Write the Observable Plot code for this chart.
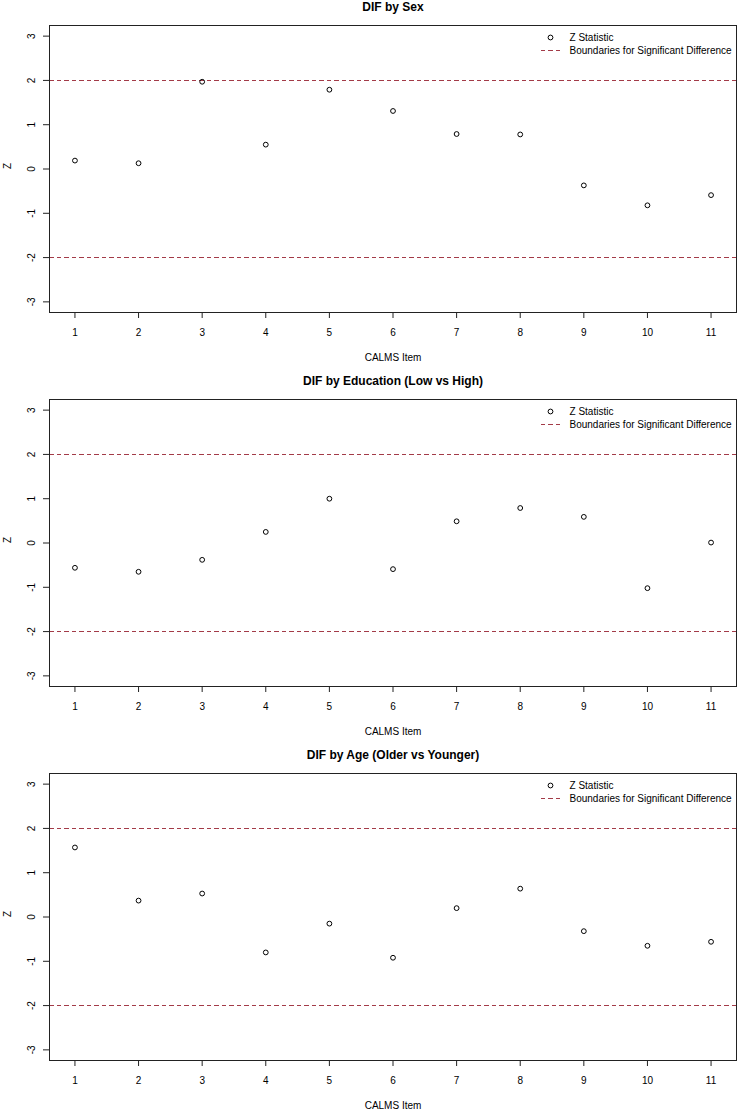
<!DOCTYPE html>
<html>
<head>
<meta charset="utf-8">
<script src="https://cdn.jsdelivr.net/npm/d3@7"></script>
<script src="https://cdn.jsdelivr.net/npm/@observablehq/plot@0.6"></script>
<style>
  html, body { margin: 0; padding: 0; background: #fff; }
  .panel { width: 738px; height: 374px; }
  .panel svg { display: block; }
</style>
</head>
<body>
<div id="charts"></div>
<script>
// ---- data ----
const items = [1, 2, 3, 4, 5, 6, 7, 8, 9, 10, 11];
const zSex = [0.19, 0.13, 1.97, 0.55, 1.79, 1.31, 0.79, 0.78, -0.37, -0.82, -0.59];
const zEducation = [-0.56, -0.65, -0.38, 0.25, 1.0, -0.59, 0.49, 0.79, 0.59, -1.02, 0.01];
const zAge = [1.57, 0.37, 0.53, -0.80, -0.15, -0.92, 0.20, 0.64, -0.32, -0.65, -0.56];
const titles = ["DIF by Sex", "DIF by Education (Low vs High)", "DIF by Age (Older vs Younger)"];
const boundaries = [-2, 2];
const yTicks = [-3, -2, -1, 0, 1, 2, 3];
const xLabel = "CALMS Item";
const yLabel = "Z";
const legendLabels = ["Z Statistic", "Boundaries for Significant Difference"];

const series = [zSex, zEducation, zAge];
const dashColor = "#a33b48";
const dashArray = "4.5,3";

const lineSymbol = {
  draw(context) {
    context.moveTo(-10, 0);
    context.lineTo(10, 0);
  }
};

const container = document.getElementById("charts");

series.forEach((vals, i) => {
  const data = items.map((it, j) => ({item: it, z: vals[j]}));
  const chart = Plot.plot({
    width: 738,
    height: 374,
    marginLeft: 49,
    marginRight: 2,
    marginTop: 25,
    marginBottom: 62,
    style: {fontFamily: "'Liberation Sans', Arial, sans-serif", fontSize: "10px", color: "#000", background: "#fff"},
    x: {domain: [0.6, 11.4]},
    y: {domain: [-3.24, 3.24]},
    marks: [
      Plot.ruleY(boundaries, {stroke: dashColor, strokeWidth: 1, strokeDasharray: dashArray, shapeRendering: "crispEdges"}),
      Plot.dot(data, {x: "item", y: "z", r: 2.4, stroke: "#000", strokeWidth: 1, fill: "none"}),
      Plot.frame({stroke: "#222", strokeWidth: 1}),
      Plot.axisX({ticks: items, tickSize: 6, tickPadding: 10, tickFormat: d => String(d), label: null, stroke: "#222"}),
      Plot.axisY({ticks: yTicks, tickSize: 6, tickPadding: 9, tickRotate: -90, tickFormat: d => String(d), label: null, stroke: "#222"}),
      Plot.text([xLabel], {frameAnchor: "bottom", dy: 45, lineAnchor: "middle", text: d => d, fontSize: 10}),
      Plot.text([yLabel], {frameAnchor: "left", dx: -42, rotate: -90, lineAnchor: "middle", text: d => d, fontSize: 10}),
      Plot.text([titles[i]], {frameAnchor: "top", dy: -18, lineAnchor: "middle", text: d => d, fontSize: 12, fontWeight: "bold"}),
      // legend
      Plot.dot([legendLabels[0]], {frameAnchor: "top-right", dx: -186, dy: 12, r: 2.4, stroke: "#000", strokeWidth: 1, fill: "none"}),
      Plot.dot([legendLabels[1]], {frameAnchor: "top-right", dx: -186, dy: 25, symbol: lineSymbol, r: 10, stroke: dashColor, strokeWidth: 1, strokeDasharray: dashArray, fill: "none", shapeRendering: "crispEdges"}),
      Plot.text([legendLabels[0]], {frameAnchor: "top-right", dx: -167, dy: 12, textAnchor: "start", lineAnchor: "middle", text: d => d, fontSize: 10}),
      Plot.text([legendLabels[1]], {frameAnchor: "top-right", dx: -167, dy: 25, textAnchor: "start", lineAnchor: "middle", text: d => d, fontSize: 10})
    ]
  });
  const div = document.createElement("div");
  div.className = "panel";
  div.appendChild(chart);
  container.appendChild(div);
});
</script>
</body>
</html>
